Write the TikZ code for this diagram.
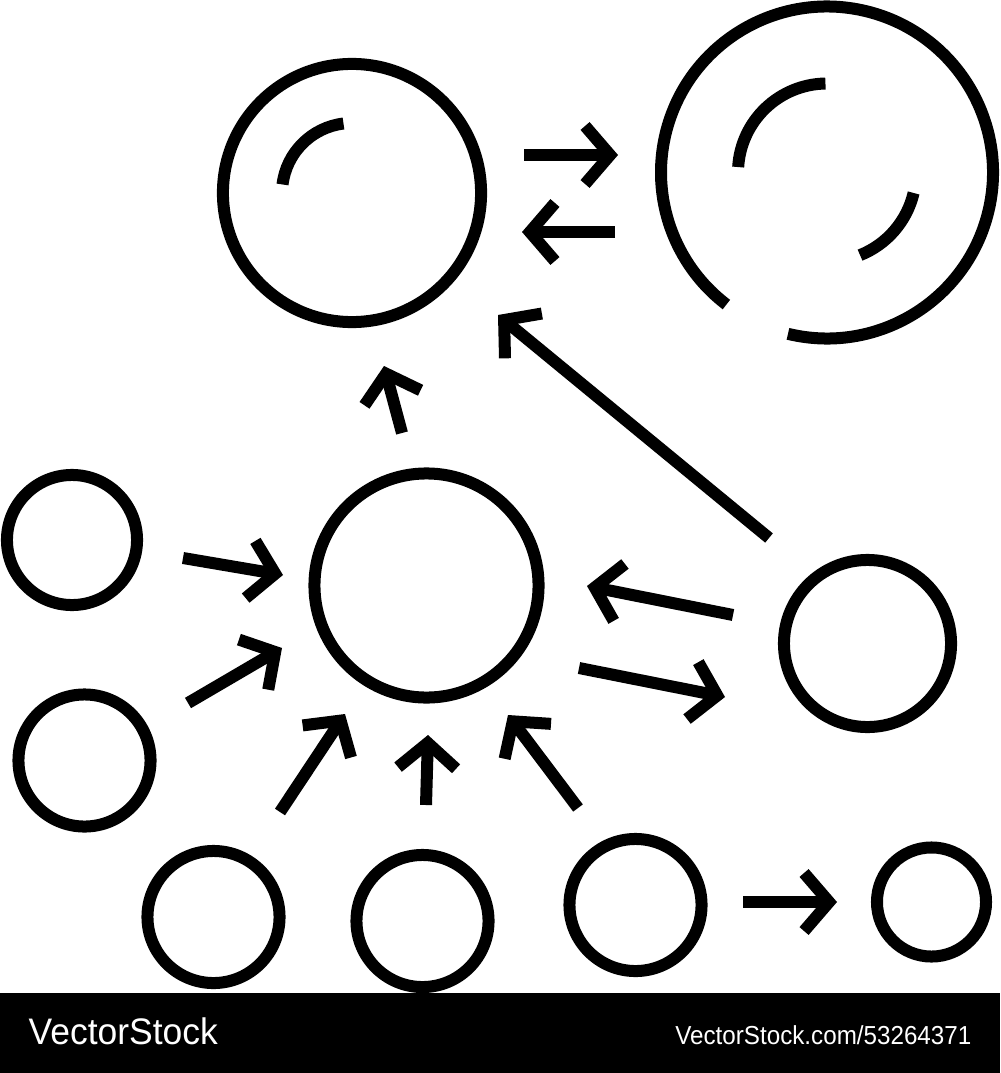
\documentclass[tikz,border=0pt]{standalone}
\usepackage{fontspec}
\setmainfont{Liberation Sans}
\usetikzlibrary{arrows.meta}

\tikzset{
  ring/.style={circle, draw, line width=0.12cm, inner sep=0pt, minimum size=#1},
  band/.style={line width=0.12cm},
  arr/.style={line width=0.12cm, -{Straight Barb[sharp, length=0.25cm, width=0.58cm]}},
  mark text/.style={text=white, inner sep=0pt},
}

\begin{document}
\begin{tikzpicture}[x=0.01cm, y=0.01cm]
\useasboundingbox (0,0) rectangle (1000,-1073);
% circles
\node[ring=2.58cm] (top) at (352,-193) {};
\coordinate (pair) at (827,-172.5);
\node[ring=2.24cm] (hub) at (426.5,-585.5) {};
\node[ring=1.30cm] (left1) at (72,-540) {};
\node[ring=1.32cm] (left2) at (84.5,-760.5) {};
\node[ring=1.67cm] (right) at (867.5,-643.5) {};
\node[ring=1.32cm] (low1) at (213.5,-917) {};
\node[ring=1.32cm] (low2) at (422.5,-921) {};
\node[ring=1.32cm] (low3) at (635.5,-905) {};
\node[ring=1.09cm] (low4) at (931.5,-902) {};
% highlights and broken ring
\draw[band] (top) ++(97:70) arc[start angle=97, end angle=173, radius=70];
\draw[band] (pair) ++(-103.6:166) arc[start angle=-103.6, end angle=232.7, radius=166];
\draw[band] (pair) ++(91:89) arc[start angle=91, end angle=176.5, radius=89];
\draw[band] (pair) ++(-13.3:89) arc[start angle=-13.3, end angle=-68.2, radius=89];
% arrow ends
\coordinate (s1) at (524,-155);  \coordinate (e1) at (618,-155);
\coordinate (s2) at (615,-232);  \coordinate (e2) at (522,-232);
\coordinate (s3) at (769,-538);  \coordinate (e3) at (498,-315);
\coordinate (s4) at (402,-433);  \coordinate (e4) at (384,-366);
\coordinate (s5) at (183,-558);  \coordinate (e5) at (283,-575);
\coordinate (s6) at (188,-703);  \coordinate (e6) at (282,-648);
\coordinate (s7) at (280,-812);  \coordinate (e7) at (345,-714);
\coordinate (s8) at (426,-805);  \coordinate (e8) at (428,-735);
\coordinate (s9) at (578,-808);  \coordinate (e9) at (508,-715);
\coordinate (s10) at (733,-615); \coordinate (e10) at (587,-586);
\coordinate (s11) at (579,-668); \coordinate (e11) at (725,-697);
\coordinate (s12) at (743,-902); \coordinate (e12) at (837,-902);
\foreach \i in {1,...,12}
  \draw[arr] (s\i) -- (e\i);
% stock banner
\fill (0,-993) rectangle (1000,-1073);
\node[mark text, anchor=west] (brand) at (28,-1031)
  {\fontsize{10.5pt}{12pt}\selectfont\scalebox{0.96}[1]{VectorStock}};
\node[mark text, anchor=east] (ref) at (972,-1035)
  {\fontsize{7.4pt}{9pt}\selectfont\scalebox{0.93}[1]{VectorStock.com/53264371}};
\end{tikzpicture}
\end{document}
